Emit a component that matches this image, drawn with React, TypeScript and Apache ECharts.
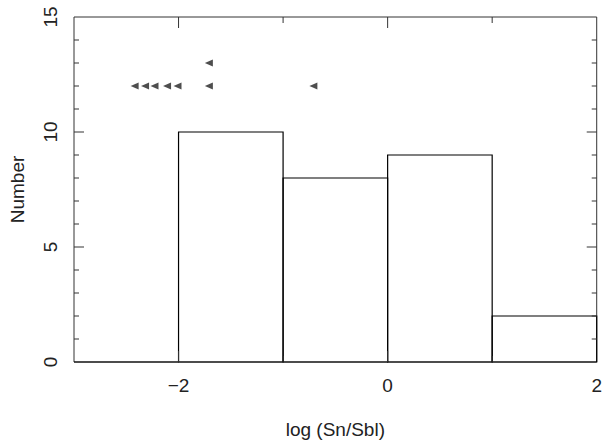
import React, { useEffect, useRef } from "react";
import * as echarts from "echarts";

const binStarts = [-3, -2, -1, 0, 1];
const binEnds = [-2, -1, 0, 1, 2];
const binCounts = [0, 10, 8, 9, 2];

const limitX = [-2.42, -2.32, -2.23, -2.11, -2.01, -1.71, -0.71, -1.71];
const limitY = [12, 12, 12, 12, 12, 12, 12, 13];

const xTickValues = [-2, -1, 0, 1];
const xMajorTicks = [-2, 0, 2];
const yTickValues = [1, 2, 3, 4, 5, 6, 7, 8, 9, 10, 11, 12, 13, 14];
const yMajorTicks = [0, 5, 10, 15];

const FONT = "Liberation Sans";
const AX = "#333";

export default function App() {
  const ref = useRef<HTMLDivElement>(null);
  useEffect(() => {
    if (!ref.current) return;
    const chart = echarts.init(ref.current, null, { renderer: "svg" });
    const hist = binStarts.map((s, i) => [s, binEnds[i], binCounts[i]]);
    const limits = limitX.map((x, i) => [x, limitY[i]]);
    const bar = (x: number, y: number, w: number, h: number) => ({
      type: "rect",
      shape: { x, y, width: w, height: h },
      style: { fill: AX },
    });
    chart.setOption({
      animation: false,
      backgroundColor: "#fff",
      grid: { left: 72, right: 6, top: 17, bottom: 82, containLabel: false },
      xAxis: {
        type: "value",
        position: "bottom",
        min: -3,
        max: 2,
        interval: 1,
        axisLine: { show: false },
        axisTick: { show: false },
        axisLabel: {
          show: true,
          customValues: xMajorTicks,
          margin: 14,
          fontFamily: FONT,
          fontSize: 19,
          color: "#222",
          formatter: (v: number) => String(v).replace("-", "\u2212"),
        },
        splitLine: { show: false },
        name: "log (Sn/Sbl)",
        nameLocation: "middle",
        nameGap: 58,
        nameTextStyle: { fontFamily: FONT, fontSize: 19, color: "#222" },
      },
      yAxis: {
        type: "value",
        position: "left",
        min: 0,
        max: 15,
        interval: 5,
        axisLine: { show: false },
        axisTick: { show: false },
        axisLabel: { show: true, rotate: 90, margin: 14, fontFamily: FONT, fontSize: 19, color: "#222" },
        splitLine: { show: false },
        name: "Number",
        nameLocation: "middle",
        nameGap: 47,
        nameTextStyle: { fontFamily: FONT, fontSize: 19, color: "#222" },
      },
      series: [
        {
          // frame box
          type: "custom",
          data: [[-3, 2, 15]],
          encode: { x: [0, 1], y: 2 },
          renderItem: (params: any, api: any) => {
            const p0 = api.coord([api.value(0), api.value(2)]);
            const p1 = api.coord([api.value(1), 0]);
            return {
              type: "rect",
              shape: { x: p0[0], y: p0[1], width: p1[0] - p0[0], height: p1[1] - p0[1] },
              style: { fill: "none", stroke: AX, lineWidth: 1 },
            };
          },
        },
        {
          type: "custom",
          data: hist,
          encode: { x: [0, 1], y: 2 },
          renderItem: (params: any, api: any) => {
            const p0 = api.coord([api.value(0), api.value(2)]);
            const p1 = api.coord([api.value(1), 0]);
            return {
              type: "rect",
              shape: { x: p0[0], y: p0[1], width: p1[0] - p0[0], height: p1[1] - p0[1] },
              style: { fill: "none", stroke: "#000", lineWidth: 1.2 },
            };
          },
        },
        {
          // x ticks, inward on bottom and top
          type: "custom",
          data: xTickValues.map((v) => [v, 0]),
          encode: { x: 0, y: 1 },
          renderItem: (params: any, api: any) => {
            const v = api.value(0);
            const len = xMajorTicks.indexOf(v) >= 0 ? 11 : 6;
            const b = api.coord([v, 0]);
            const t = api.coord([v, 15]);
            return {
              type: "group",
              children: [bar(b[0] - 0.5, b[1] - len, 1, len), bar(t[0] - 0.5, t[1], 1, len)],
            };
          },
        },
        {
          // y ticks, inward on left and right
          type: "custom",
          data: yTickValues.map((v) => [0, v]),
          encode: { x: 0, y: 1 },
          renderItem: (params: any, api: any) => {
            const v = api.value(1);
            const len = yMajorTicks.indexOf(v) >= 0 ? 10 : 5;
            const l = api.coord([-3, v]);
            const r = api.coord([2, v]);
            return {
              type: "group",
              children: [bar(l[0], l[1] - 0.5, len, 1), bar(r[0] - len, r[1] - 0.5, len, 1)],
            };
          },
        },
        {
          type: "scatter",
          data: limits,
          symbol: "triangle",
          symbolRotate: 90,
          symbolSize: [7, 8],
          itemStyle: { color: "#222" },
        },
      ],
    });
    return () => chart.dispose();
  }, []);
  return <div ref={ref} style={{ position: "absolute", left: 0, top: 0, width: 605, height: 444 }} />;
}
